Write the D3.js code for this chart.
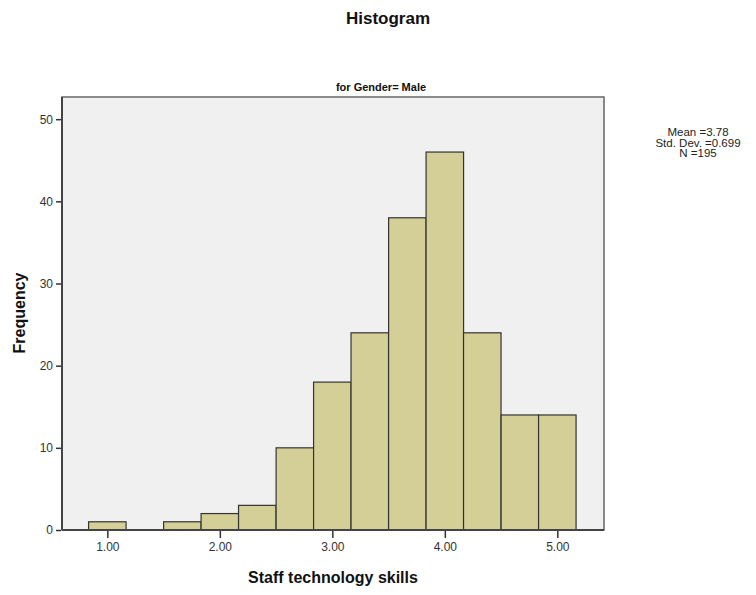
<!DOCTYPE html>
<html>
<head>
<meta charset="utf-8">
<script src="https://cdn.jsdelivr.net/npm/d3@7"></script>
<style>
  body { margin: 0; background: white; }
  text { font-family: "Liberation Sans", Arial, sans-serif; }
</style>
</head>
<body>
<script>
// bin centres and counts, bin width 1/3
const binCenters = [1.0, 1.333, 1.667, 2.0, 2.333, 2.667, 3.0, 3.333, 3.667, 4.0, 4.333, 4.667, 5.0];
const counts = [1, 0, 1, 2, 3, 10, 18, 24, 38, 46, 24, 14, 14];
const binWidth = 1 / 3;
const xTicks = [1, 2, 3, 4, 5];
const yTicks = [0, 10, 20, 30, 40, 50];
const statsLines = ["Mean =3.78", "Std. Dev. =0.699", "N =195"];

const svg = d3.select("body").append("svg")
    .attr("width", 756)
    .attr("height", 595);

const plotL = 62, plotR = 604, plotT = 97, plotB = 530;

const x = d3.scaleLinear().domain([0.597, 5.415]).range([plotL, plotR]);
const y = d3.scaleLinear().domain([0, 52.7]).range([plotB, plotT]);

// plot background
svg.append("rect")
    .attr("x", plotL).attr("y", plotT)
    .attr("width", plotR - plotL).attr("height", plotB - plotT)
    .style("fill", "#f0f0f0")
    .style("stroke", "none");

// bars
svg.selectAll(".bar")
    .data(binCenters.map((c, i) => ({ c, n: counts[i] })).filter(d => d.n > 0))
    .join("rect")
    .attr("class", "bar")
    .attr("x", d => x(d.c - binWidth / 2))
    .attr("y", d => y(d.n))
    .attr("width", d => x(d.c + binWidth / 2) - x(d.c - binWidth / 2))
    .attr("height", d => y(0) - y(d.n))
    .style("fill", "#d4cf97")
    .style("stroke", "#333")
    .style("stroke-width", 1.2);

// frame
svg.append("rect")
    .attr("x", plotL).attr("y", plotT)
    .attr("width", plotR - plotL).attr("height", plotB - plotT)
    .style("fill", "none")
    .style("stroke", "#666")
    .style("stroke-width", 1.5);
svg.append("line")
    .attr("x1", plotL).attr("x2", plotL).attr("y1", plotT).attr("y2", plotB)
    .style("stroke", "#444").style("stroke-width", 2);
svg.append("line")
    .attr("x1", plotL).attr("x2", plotR).attr("y1", plotB).attr("y2", plotB)
    .style("stroke", "#444").style("stroke-width", 2);

// axes
const yAxis = svg.append("g")
    .attr("transform", `translate(${plotL - 1},0)`)
    .call(d3.axisLeft(y).tickValues(yTicks).tickSize(5).tickPadding(3));
const xAxis = svg.append("g")
    .attr("transform", `translate(0,${plotB + 1})`)
    .call(d3.axisBottom(x).tickValues(xTicks).tickFormat(d3.format(".2f")).tickSize(7).tickPadding(4));

[yAxis, xAxis].forEach(a => {
    a.select(".domain").remove();
    a.selectAll(".tick line").style("stroke", "#333").style("stroke-width", 1.5);
    a.selectAll(".tick text")
        .style("font-family", "'Liberation Sans', Arial, sans-serif")
        .style("font-size", "12px")
        .style("fill", "#333");
});

// titles
svg.append("text")
    .attr("x", 388).attr("y", 24)
    .attr("text-anchor", "middle")
    .style("font-size", "17px")
    .style("font-weight", "bold")
    .style("fill", "#111")
    .text("Histogram");

svg.append("text")
    .attr("x", 381).attr("y", 91)
    .attr("text-anchor", "middle")
    .style("font-size", "11px")
    .style("font-weight", "bold")
    .style("fill", "#111")
    .text("for Gender= Male");

svg.append("text")
    .attr("transform", "translate(25,313) rotate(-90)")
    .attr("text-anchor", "middle")
    .style("font-size", "16px")
    .style("font-weight", "bold")
    .style("fill", "#111")
    .text("Frequency");

svg.append("text")
    .attr("x", 333).attr("y", 583)
    .attr("text-anchor", "middle")
    .style("font-size", "16px")
    .style("font-weight", "bold")
    .style("fill", "#111")
    .text("Staff technology skills");

// stats box
svg.selectAll(".stat")
    .data(statsLines)
    .join("text")
    .attr("class", "stat")
    .attr("x", 698)
    .attr("y", (d, i) => 136 + i * 10.5)
    .attr("text-anchor", "middle")
    .style("font-size", "11.5px")
    .style("fill", "#222")
    .text(d => d);
</script>
</body>
</html>
